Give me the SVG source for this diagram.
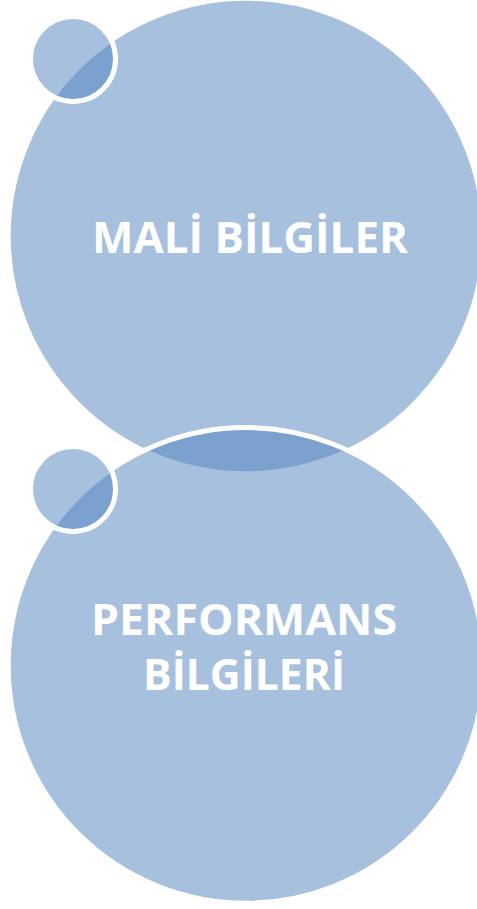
<svg xmlns="http://www.w3.org/2000/svg" width="477" height="909" viewBox="0 0 477 909">
<style>
.c{fill:#4F81BD;fill-opacity:0.5;stroke:#FFFFFF;stroke-width:5}
.t{fill:#FFFFFF;font-family:"Open Sans","Liberation Sans",sans-serif;font-weight:bold;font-size:43px;text-anchor:middle}
</style>
<rect width="477" height="909" fill="#FFFFFF"/>
<g id="node-mali">
<circle class="c" cx="246" cy="236" r="237.8"/>
<text class="t" x="250" y="253" textLength="316" lengthAdjust="spacingAndGlyphs">MALİ BİLGİLER</text>
</g>
<g id="node-mali-dot">
<circle class="c" cx="73" cy="59" r="42.5"/>
</g>
<g id="node-performans">
<circle class="c" cx="246" cy="665.4" r="237.8"/>
<text class="t" x="244" y="635" textLength="306" lengthAdjust="spacingAndGlyphs">PERFORMANS</text>
<text class="t" x="244" y="690" textLength="202" lengthAdjust="spacingAndGlyphs">BİLGİLERİ</text>
</g>
<g id="node-performans-dot">
<circle class="c" cx="73" cy="489" r="42.5"/>
</g>
<g id="connectors"/>
</svg>
